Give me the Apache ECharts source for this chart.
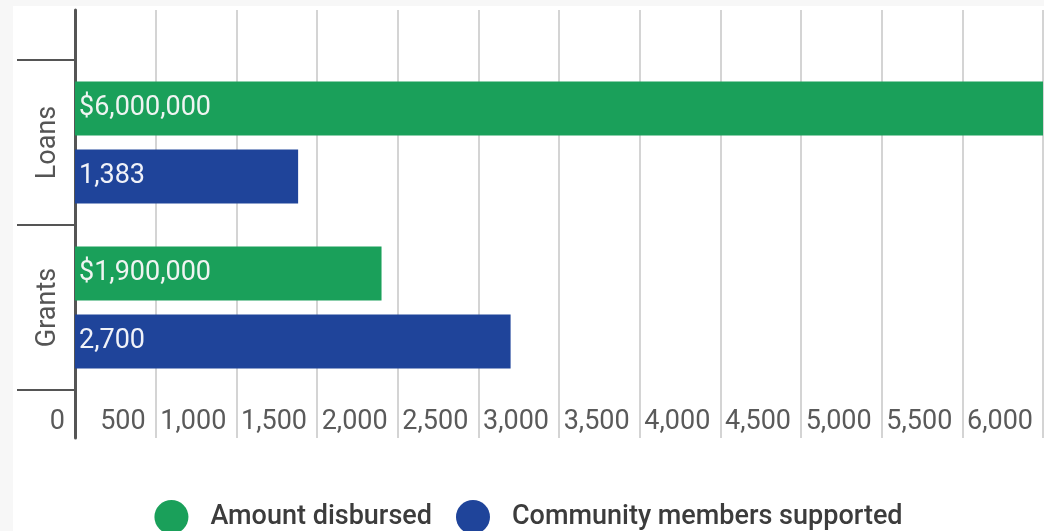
<!DOCTYPE html>
<html>
<head>
<meta charset="utf-8">
<script src="https://cdn.jsdelivr.net/npm/echarts@6/dist/echarts.min.js"></script>
<style>
  html, body { margin: 0; padding: 0; background: #f7f7f7; width: 1044px; height: 531px; overflow: hidden; }
  #chart { position: absolute; left: 13px; top: 6px; width: 1031px; height: 525px; background: #fff; }
</style>
</head>
<body>
<div id="chart"></div>
<script>
// data
const categories = ["Loans", "Grants"];
const amountThousands = [6000, 1900]; // amount disbursed, in thousands of $
const membersSupported = [1383, 2700];
const seriesNames = ["Amount disbursed", "Community members supported"];

const chart = echarts.init(document.getElementById("chart"));
const fmt = v => Number(v).toLocaleString("en-US");
const font = "Roboto";

chart.setOption({
  animation: false,
  color: ["#1aa05a", "#1f449a"],
  grid: [
    // outer grid: gridlines, x labels, main axis line
    { left: 62, right: 1, top: 4, bottom: 93 },
    // inner grid: category bands + bars
    { left: 62, right: 1, top: 54, bottom: 141 }
  ],
  legend: {
    data: seriesNames,
    top: 489,
    left: "center",
    icon: "circle",
    itemWidth: 34,
    itemHeight: 34,
    itemGap: 24,
    textStyle: { fontFamily: font, fontSize: 27, fontWeight: 500, color: "#3c3c3c", padding: [0, 0, 0, 17] }
  },
  xAxis: [
    {
      gridIndex: 0,
      type: "value",
      min: 0, max: 6000, interval: 500,
      axisLine: { show: false },
      axisTick: { show: false },
      splitLine: { show: true, lineStyle: { color: "#c6c6c6", width: 1.5 } },
      axisLabel: {
        inside: true,
        margin: 2,
        align: "right",
        padding: [0, 10, 0, 0],
        fontFamily: font, fontSize: 27, color: "#5a5a5a",
        showMaxLabel: true, showMinLabel: true,
        formatter: v => fmt(v)
      }
    },
    { gridIndex: 1, type: "value", min: 0, max: 6000, show: false }
  ],
  yAxis: [
    {
      gridIndex: 0,
      type: "value",
      axisLine: { show: true, lineStyle: { color: "#555", width: 3 } },
      axisTick: { show: false },
      axisLabel: { show: false },
      splitLine: { show: false }
    },
    {
      gridIndex: 1,
      type: "category",
      data: categories,
      inverse: true,
      axisLine: { show: false },
      axisTick: { show: true, length: 58, lineStyle: { color: "#555", width: 2 } },
      axisLabel: {
        rotate: 90,
        margin: 13,
        fontFamily: font, fontSize: 27, color: "#555"
      }
    }
  ],
  series: [
    {
      name: seriesNames[0],
      type: "bar",
      xAxisIndex: 1, yAxisIndex: 1,
      data: amountThousands,
      barWidth: 54,
      barGap: "26%",
      label: {
        show: true, position: "insideLeft", distance: 4,
        fontFamily: font, fontSize: 27, color: "#f0f4f2",
        formatter: p => "$" + fmt(p.value * 1000)
      }
    },
    {
      name: seriesNames[1],
      type: "bar",
      xAxisIndex: 1, yAxisIndex: 1,
      data: membersSupported,
      barWidth: 54,
      barGap: "26%",
      label: {
        show: true, position: "insideLeft", distance: 4,
        fontFamily: font, fontSize: 27, color: "#f0f2f8",
        formatter: p => fmt(p.value)
      }
    }
  ]
});
</script>
</body>
</html>
